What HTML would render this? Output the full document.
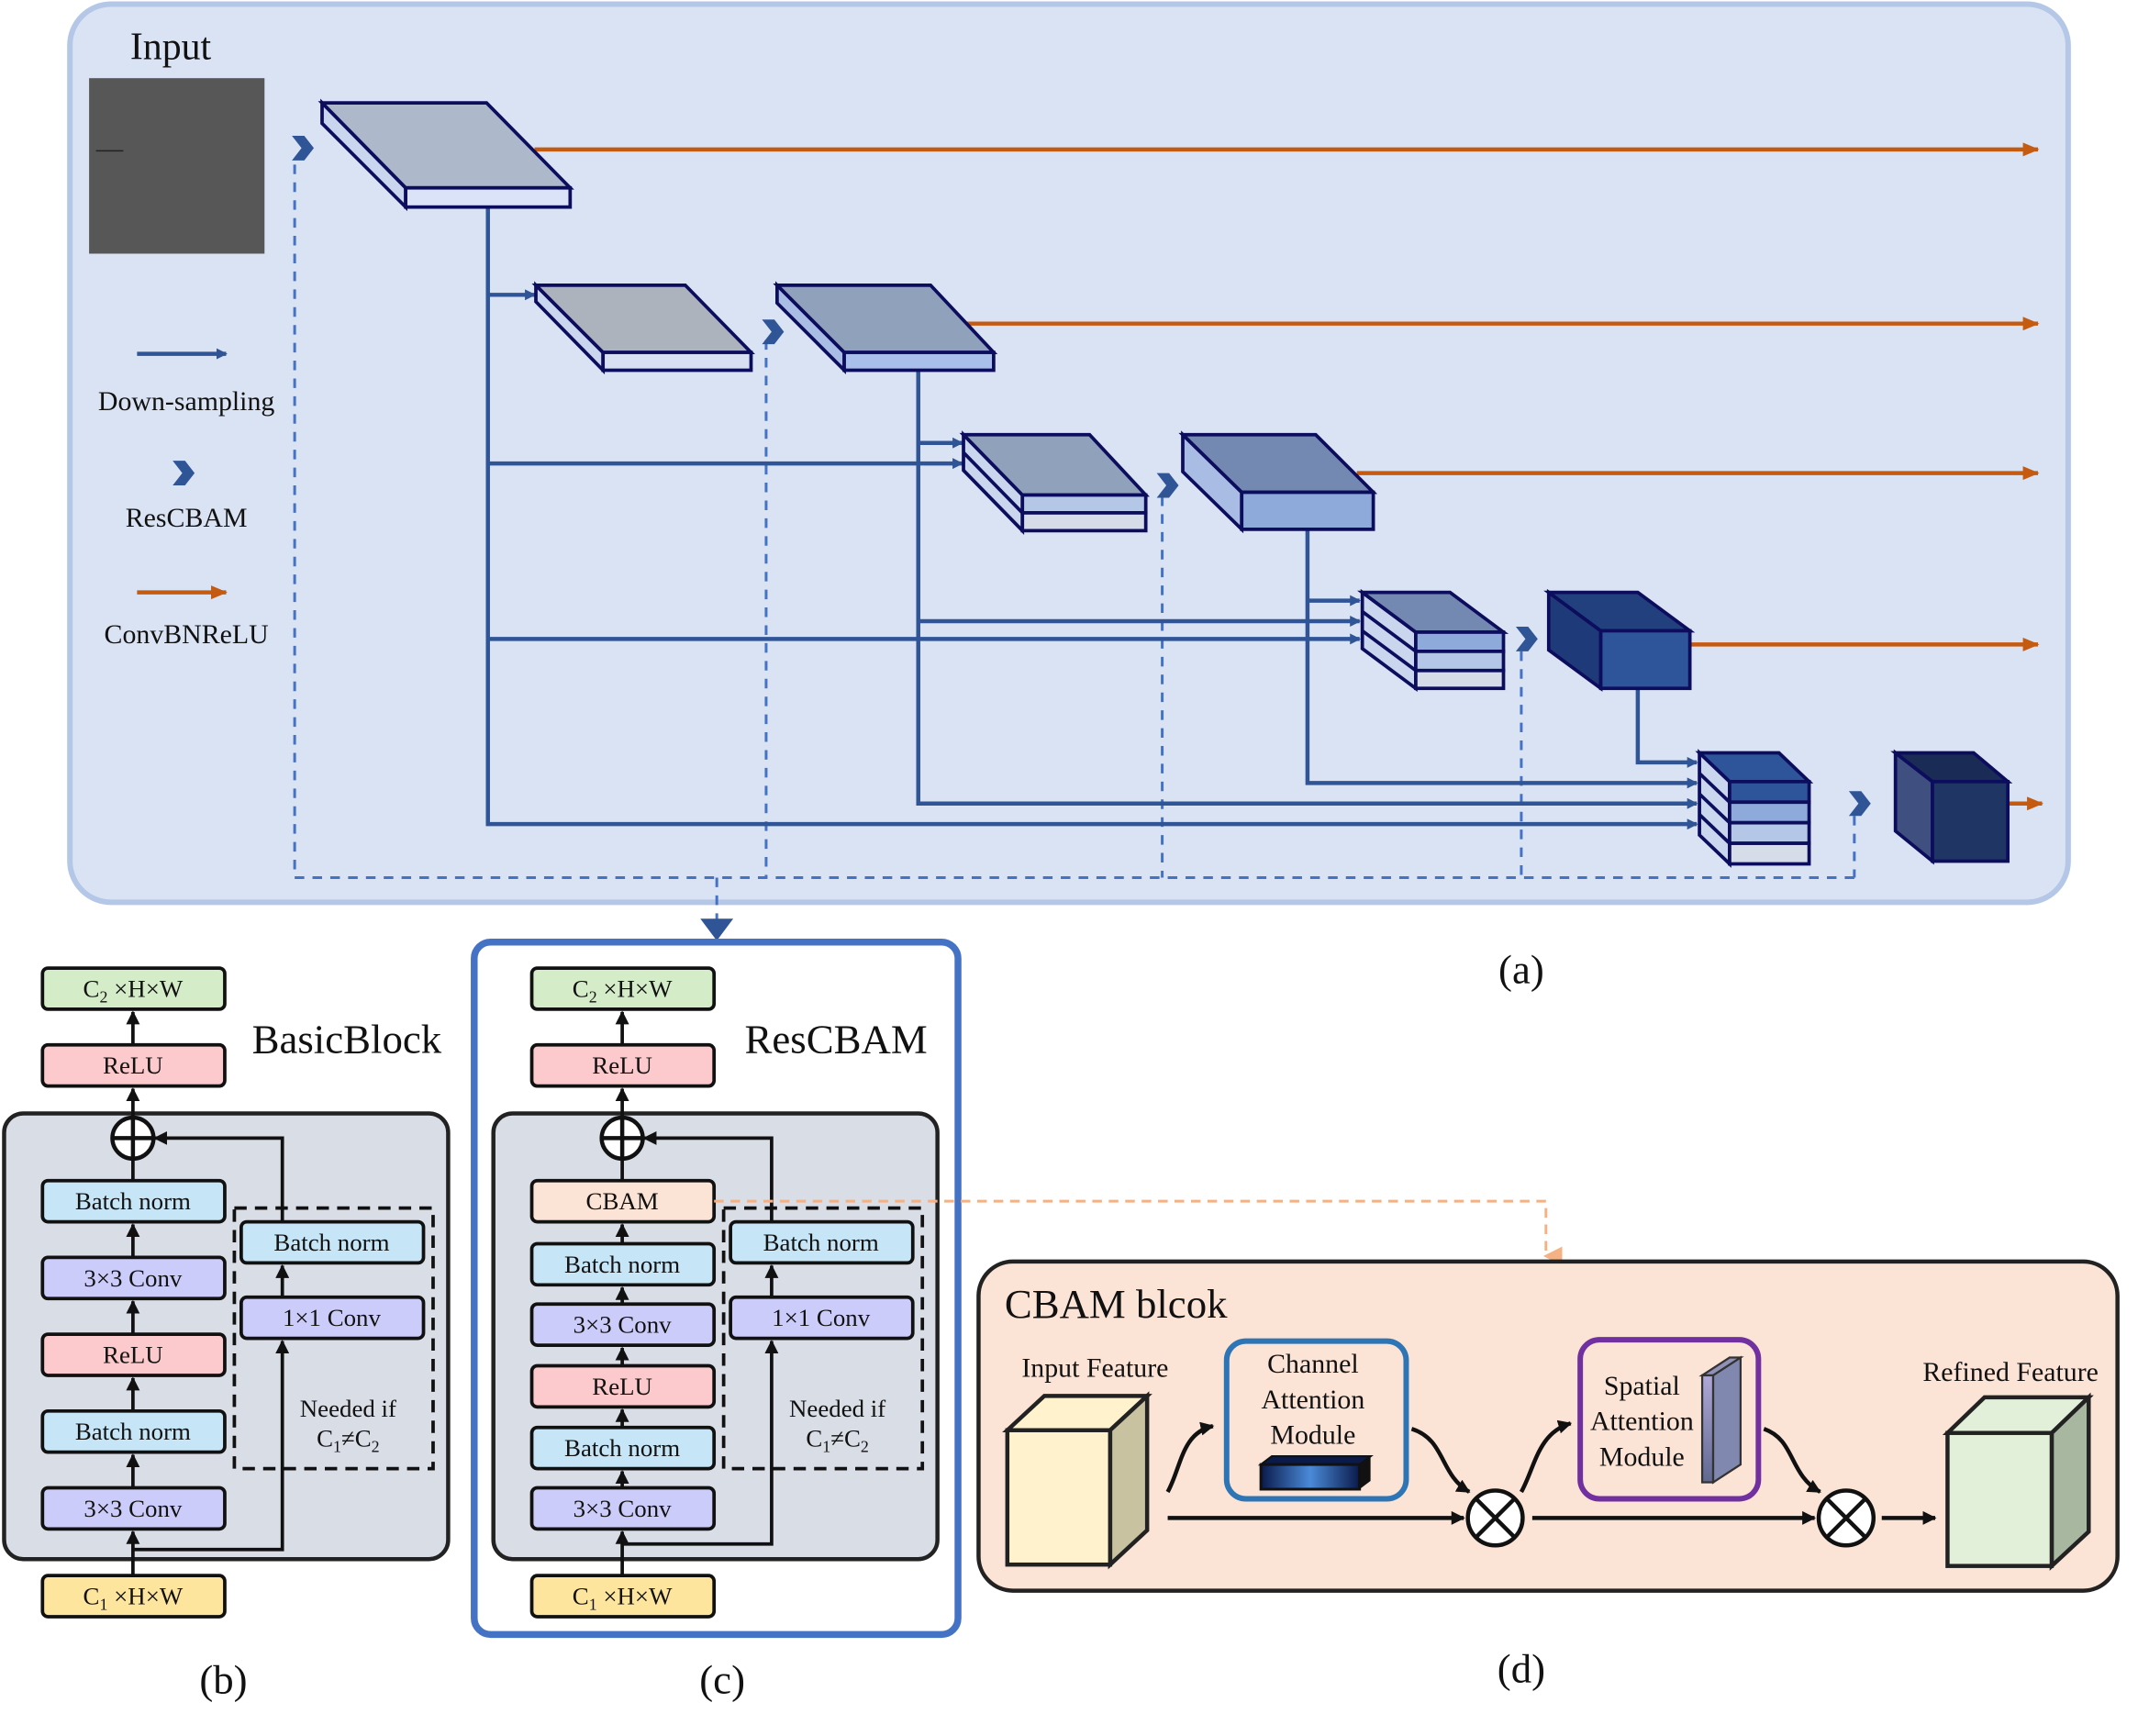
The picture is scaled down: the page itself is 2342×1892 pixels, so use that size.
<!DOCTYPE html>
<html><head><meta charset="utf-8"><style>
html,body{margin:0;padding:0;background:#fff;}
svg{display:block;}
text{font-family:"Liberation Serif",serif;fill:#111;}
</style></head><body>
<svg width="2342" height="1892" viewBox="0 0 1568 1266" preserveAspectRatio="none" xmlns="http://www.w3.org/2000/svg">
<defs>
<marker id="ab" markerWidth="8" markerHeight="8" refX="7" refY="4" orient="auto" markerUnits="userSpaceOnUse"><path d="M0,0 L8,4 L0,8 z" fill="#2f5597"/></marker>
<marker id="ao" markerWidth="12" markerHeight="10" refX="11" refY="5" orient="auto" markerUnits="userSpaceOnUse"><path d="M0,0 L12,5 L0,10 z" fill="#c55a11"/></marker>
<marker id="ak" markerWidth="10" markerHeight="10" refX="9" refY="5" orient="auto" markerUnits="userSpaceOnUse"><path d="M0,0 L10,5 L0,10 z" fill="#111"/></marker>
<marker id="ap" markerWidth="14" markerHeight="14" refX="7" refY="12" orient="auto" markerUnits="userSpaceOnUse"><path d="M0,0 L14,0 L7,14 z" fill="#f4b183"/></marker>
<linearGradient id="gch" x1="0" x2="1"><stop offset="0" stop-color="#0a1a4a"/><stop offset="0.5" stop-color="#4a8ad8"/><stop offset="1" stop-color="#0a1a4a"/></linearGradient>
<linearGradient id="gsp" x1="0" y1="0" x2="0" y2="1"><stop offset="0" stop-color="#b0a8d8"/><stop offset="1" stop-color="#606890"/></linearGradient>
<g id="chev"><path d="M-7,-9 L2,-9 L9,0 L2,9 L-7,9 L0,0 z" fill="#2f5597"/></g>
</defs>

<!-- Panel a -->
<rect x="51" y="3" width="1458" height="655" rx="30" fill="#dae3f3" stroke="#b4c7e7" stroke-width="4"/>
<text x="95" y="43" font-size="28">Input</text>
<rect x="65" y="57" width="128" height="128" fill="#575757"/>
<line x1="70" y1="110" x2="90" y2="110" stroke="#222" stroke-width="1"/>

<line x1="100" y1="258" x2="165" y2="258" stroke="#2f5597" stroke-width="3" marker-end="url(#ab)"/>
<text x="136" y="299" font-size="20" text-anchor="middle">Down-sampling</text>
<use href="#chev" x="133" y="345"/>
<text x="136" y="384" font-size="20" text-anchor="middle">ResCBAM</text>
<line x1="100" y1="432" x2="165" y2="432" stroke="#c55a11" stroke-width="3" marker-end="url(#ao)"/>
<text x="136" y="469" font-size="20" text-anchor="middle">ConvBNReLU</text>

<g stroke="#c55a11" stroke-width="3" fill="none">
<line x1="390" y1="109" x2="1487" y2="109" marker-end="url(#ao)"/>
<line x1="705" y1="236" x2="1487" y2="236" marker-end="url(#ao)"/>
<line x1="990" y1="345" x2="1487" y2="345" marker-end="url(#ao)"/>
<line x1="1233" y1="470" x2="1487" y2="470" marker-end="url(#ao)"/>
<line x1="1465" y1="586" x2="1490" y2="586" marker-end="url(#ao)"/>
</g>

<g stroke="#4472c4" stroke-width="2" stroke-dasharray="7,6" fill="none">
<line x1="215" y1="120" x2="215" y2="640"/>
<line x1="559" y1="248" x2="559" y2="640"/>
<line x1="848" y1="362" x2="848" y2="640"/>
<line x1="1110" y1="475" x2="1110" y2="640"/>
<line x1="1353" y1="595" x2="1353" y2="640"/>
<line x1="215" y1="640" x2="1353" y2="640"/>
<line x1="523" y1="640" x2="523" y2="672"/>
</g>
<path d="M511,670 L535,670 L523,686 z" fill="#2f5597"/>

<g stroke="#2f5597" stroke-width="3" fill="none">
<polyline points="356,151 356,601 1238,601" marker-end="url(#ab)"/>
<line x1="356" y1="215" x2="390" y2="215" marker-end="url(#ab)"/>
<line x1="356" y1="338" x2="702" y2="338" marker-end="url(#ab)"/>
<line x1="356" y1="466" x2="992" y2="466" marker-end="url(#ab)"/>
<polyline points="670,270 670,586 1238,586" marker-end="url(#ab)"/>
<line x1="670" y1="323" x2="702" y2="323" marker-end="url(#ab)"/>
<line x1="670" y1="453" x2="992" y2="453" marker-end="url(#ab)"/>
<polyline points="954,386 954,571 1238,571" marker-end="url(#ab)"/>
<line x1="954" y1="438" x2="992" y2="438" marker-end="url(#ab)"/>
<polyline points="1195,502 1195,556 1238,556" marker-end="url(#ab)"/>
</g>

<use href="#chev" x="220" y="108"/>
<use href="#chev" x="563" y="242"/>
<use href="#chev" x="851" y="354"/>
<use href="#chev" x="1113" y="466"/>
<use href="#chev" x="1356" y="586"/>

<g stroke="#0d0d5e" stroke-width="2.5" stroke-linejoin="miter">
<polygon points="235,75 235,90 296,151 296,137" fill="#c9d6ee"/>
<polygon points="235,75 355,75 416,137 296,137" fill="#adb9cb"/>
<rect x="296" y="137" width="120" height="14" fill="#dae3f8"/>
<polygon points="391,208 391,220 440,270 440,257" fill="#c9d6ee"/>
<polygon points="391,208 500,208 548,257 440,257" fill="#adb3bd"/>
<rect x="440" y="257" width="108" height="13" fill="#d6e0f2"/>
<polygon points="567,208 567,221 616,270 616,257" fill="#a8bce4"/>
<polygon points="567,208 679,208 725,257 616,257" fill="#8fa1bb"/>
<rect x="616" y="257" width="109" height="13" fill="#a9c0ea"/>
<polygon points="703,317 703,343 746,387 746,361" fill="#c9d6ee"/>
<polygon points="703,317 795,317 836,361 746,361" fill="#8fa1bb"/>
<rect x="746" y="361" width="90" height="13" fill="#b4c7e7"/>
<rect x="746" y="374" width="90" height="13" fill="#d6dde8"/>
<line x1="703" y1="330" x2="746" y2="374"/>
<polygon points="863,317 863,344 906,386 906,359" fill="#a9bce4"/>
<polygon points="863,317 960,317 1002,359 906,359" fill="#7489b1"/>
<rect x="906" y="359" width="96" height="27" fill="#8eaadb"/>
<polygon points="994,432 994,473 1033,502 1033,461" fill="#c9d6ee"/>
<polygon points="994,432 1058,432 1097,461 1033,461" fill="#7489b1"/>
<rect x="1033" y="461" width="64" height="14" fill="#8eaadb"/>
<rect x="1033" y="475" width="64" height="14" fill="#b4c7e7"/>
<rect x="1033" y="489" width="64" height="13" fill="#d6dde8"/>
<line x1="994" y1="446" x2="1033" y2="475"/><line x1="994" y1="460" x2="1033" y2="489"/>
<polygon points="1130,432 1130,474 1168,502 1168,460" fill="#1f3a78"/>
<polygon points="1130,432 1195,432 1233,460 1168,460" fill="#22407e"/>
<rect x="1168" y="460" width="65" height="42" fill="#2e5599"/>
<polygon points="1240,549 1240,609 1262,630 1262,570" fill="#c9d6ee"/>
<polygon points="1240,549 1298,549 1320,570 1262,570" fill="#2e5599"/>
<rect x="1262" y="570" width="58" height="15" fill="#2e5599"/>
<rect x="1262" y="585" width="58" height="15" fill="#8eaadb"/>
<rect x="1262" y="600" width="58" height="15" fill="#b4c7e7"/>
<rect x="1262" y="615" width="58" height="15" fill="#d6dde8"/>
<line x1="1240" y1="564" x2="1262" y2="585"/><line x1="1240" y1="579" x2="1262" y2="600"/><line x1="1240" y1="594" x2="1262" y2="615"/>
<polygon points="1383,549 1383,606 1410,628 1410,570" fill="#3e4f80"/>
<polygon points="1383,549 1440,549 1465,570 1410,570" fill="#1a2b55"/>
<rect x="1410" y="570" width="55" height="58" fill="#1f3564"/>
</g>
<text x="1110" y="717" font-size="30" text-anchor="middle">(a)</text>

<!-- Panel b -->
<rect x="3" y="812" width="324" height="325" rx="14" fill="#d9dde6" stroke="#222" stroke-width="3"/>
<rect x="171" y="881" width="145" height="190" fill="none" stroke="#111" stroke-width="2.5" stroke-dasharray="9,6"/>
<g stroke="#111" stroke-width="2.5" fill="none">
<line x1="97" y1="1179" x2="97" y2="1117" marker-end="url(#ak)"/>
<line x1="97" y1="1085" x2="97" y2="1061" marker-end="url(#ak)"/>
<line x1="97" y1="1029" x2="97" y2="1005" marker-end="url(#ak)"/>
<line x1="97" y1="973" x2="97" y2="949" marker-end="url(#ak)"/>
<line x1="97" y1="917" x2="97" y2="893" marker-end="url(#ak)"/>
<line x1="97" y1="861" x2="97" y2="846"/>
<line x1="97" y1="814" x2="97" y2="794" marker-end="url(#ak)"/>
<line x1="97" y1="762" x2="97" y2="738" marker-end="url(#ak)"/>
<polyline points="97,1130 206,1130 206,978" marker-end="url(#ak)"/>
<line x1="206" y1="946" x2="206" y2="923" marker-end="url(#ak)"/>
<polyline points="206,891 206,830 113,830" marker-end="url(#ak)"/>
<circle cx="97" cy="830" r="15" fill="#fff" stroke-width="3"/>
<line x1="82" y1="830" x2="112" y2="830" stroke-width="3"/><line x1="97" y1="815" x2="97" y2="845" stroke-width="3"/>
</g>
<g stroke="#111" stroke-width="2.5">
<rect x="31" y="706" width="133" height="30" rx="4" fill="#d5ecc9"/>
<rect x="31" y="762" width="133" height="30" rx="4" fill="#fcc9cc"/>
<rect x="31" y="861" width="133" height="30" rx="4" fill="#c6e5f6"/>
<rect x="31" y="917" width="133" height="30" rx="4" fill="#ccccfb"/>
<rect x="31" y="973" width="133" height="30" rx="4" fill="#fcc9cc"/>
<rect x="31" y="1029" width="133" height="30" rx="4" fill="#c6e5f6"/>
<rect x="31" y="1085" width="133" height="30" rx="4" fill="#ccccfb"/>
<rect x="31" y="1149" width="133" height="30" rx="4" fill="#fde59e"/>
<rect x="176" y="891" width="133" height="30" rx="4" fill="#c6e5f6"/>
<rect x="176" y="946" width="133" height="30" rx="4" fill="#ccccfb"/>
</g>
<g font-size="18" text-anchor="middle">
<text x="97" y="727">C<tspan font-size="12" dy="4">2</tspan><tspan dy="-4"> ×H×W</tspan></text>
<text x="97" y="783">ReLU</text>
<text x="97" y="882">Batch norm</text>
<text x="97" y="938">3×3 Conv</text>
<text x="97" y="994">ReLU</text>
<text x="97" y="1050">Batch norm</text>
<text x="97" y="1106">3×3 Conv</text>
<text x="97" y="1170">C<tspan font-size="12" dy="4">1</tspan><tspan dy="-4"> ×H×W</tspan></text>
<text x="242" y="912">Batch norm</text>
<text x="242" y="967">1×1 Conv</text>
<text x="254" y="1033">Needed if</text>
<text x="254" y="1055">C<tspan font-size="12" dy="4">1</tspan><tspan dy="-4">≠C</tspan><tspan font-size="12" dy="4">2</tspan></text>
</g>
<text x="253" y="768" font-size="30" text-anchor="middle">BasicBlock</text>
<text x="163" y="1235" font-size="30" text-anchor="middle">(b)</text>

<!-- Panel c -->
<rect x="346" y="687" width="353" height="505" rx="12" fill="#fff" stroke="#4472c4" stroke-width="5"/>
<rect x="360" y="812" width="324" height="325" rx="14" fill="#d9dde6" stroke="#222" stroke-width="3"/>
<rect x="528" y="881" width="145" height="190" fill="none" stroke="#111" stroke-width="2.5" stroke-dasharray="9,6"/>
<g stroke="#111" stroke-width="2.5" fill="none">
<line x1="454" y1="1179" x2="454" y2="1117" marker-end="url(#ak)"/>
<line x1="454" y1="1085" x2="454" y2="1073" marker-end="url(#ak)"/>
<line x1="454" y1="1041" x2="454" y2="1028" marker-end="url(#ak)"/>
<line x1="454" y1="996" x2="454" y2="983" marker-end="url(#ak)"/>
<line x1="454" y1="951" x2="454" y2="939" marker-end="url(#ak)"/>
<line x1="454" y1="907" x2="454" y2="893" marker-end="url(#ak)"/>
<line x1="454" y1="861" x2="454" y2="846"/>
<line x1="454" y1="814" x2="454" y2="794" marker-end="url(#ak)"/>
<line x1="454" y1="762" x2="454" y2="738" marker-end="url(#ak)"/>
<polyline points="454,1126 563,1126 563,978" marker-end="url(#ak)"/>
<line x1="563" y1="946" x2="563" y2="923" marker-end="url(#ak)"/>
<polyline points="563,891 563,830 470,830" marker-end="url(#ak)"/>
<circle cx="454" cy="830" r="15" fill="#fff" stroke-width="3"/>
<line x1="439" y1="830" x2="469" y2="830" stroke-width="3"/><line x1="454" y1="815" x2="454" y2="845" stroke-width="3"/>
</g>
<g stroke="#111" stroke-width="2.5">
<rect x="388" y="706" width="133" height="30" rx="4" fill="#d5ecc9"/>
<rect x="388" y="762" width="133" height="30" rx="4" fill="#fcc9cc"/>
<rect x="388" y="861" width="133" height="30" rx="4" fill="#fbe3d5"/>
<rect x="388" y="907" width="133" height="30" rx="4" fill="#c6e5f6"/>
<rect x="388" y="951" width="133" height="30" rx="4" fill="#ccccfb"/>
<rect x="388" y="996" width="133" height="30" rx="4" fill="#fcc9cc"/>
<rect x="388" y="1041" width="133" height="30" rx="4" fill="#c6e5f6"/>
<rect x="388" y="1085" width="133" height="30" rx="4" fill="#ccccfb"/>
<rect x="388" y="1149" width="133" height="30" rx="4" fill="#fde59e"/>
<rect x="533" y="891" width="133" height="30" rx="4" fill="#c6e5f6"/>
<rect x="533" y="946" width="133" height="30" rx="4" fill="#ccccfb"/>
</g>
<g font-size="18" text-anchor="middle">
<text x="454" y="727">C<tspan font-size="12" dy="4">2</tspan><tspan dy="-4"> ×H×W</tspan></text>
<text x="454" y="783">ReLU</text>
<text x="454" y="882">CBAM</text>
<text x="454" y="928">Batch norm</text>
<text x="454" y="972">3×3 Conv</text>
<text x="454" y="1017">ReLU</text>
<text x="454" y="1062">Batch norm</text>
<text x="454" y="1106">3×3 Conv</text>
<text x="454" y="1170">C<tspan font-size="12" dy="4">1</tspan><tspan dy="-4"> ×H×W</tspan></text>
<text x="599" y="912">Batch norm</text>
<text x="599" y="967">1×1 Conv</text>
<text x="611" y="1033">Needed if</text>
<text x="611" y="1055">C<tspan font-size="12" dy="4">1</tspan><tspan dy="-4">≠C</tspan><tspan font-size="12" dy="4">2</tspan></text>
</g>
<text x="610" y="768" font-size="30" text-anchor="middle">ResCBAM</text>
<text x="527" y="1235" font-size="30" text-anchor="middle">(c)</text>

<polyline points="521,876 1128,876 1128,916" fill="none" stroke="#f4b183" stroke-width="2" stroke-dasharray="7,5" marker-end="url(#ap)"/>

<!-- Panel d -->
<rect x="714" y="920" width="831" height="240" rx="25" fill="#fbe3d6" stroke="#222" stroke-width="3"/>
<text x="733" y="961" font-size="30">CBAM blcok</text>
<text x="799" y="1004" font-size="20" text-anchor="middle">Input Feature</text>
<g stroke="#222" stroke-width="3">
<polygon points="735,1043 762,1018 837,1018 810,1043" fill="#fff2cc"/>
<polygon points="810,1043 837,1018 837,1116 810,1141" fill="#c8c2a0"/>
<rect x="735" y="1043" width="75" height="98" fill="#fff2cc"/>
</g>
<text x="1467" y="1007" font-size="20" text-anchor="middle">Refined Feature</text>
<g stroke="#222" stroke-width="3">
<polygon points="1421,1045 1448,1019 1524,1019 1497,1045" fill="#e2efd9"/>
<polygon points="1497,1045 1524,1019 1524,1117 1497,1142" fill="#a8b8a0"/>
<rect x="1421" y="1045" width="76" height="97" fill="#e2efd9"/>
</g>
<rect x="895" y="978" width="131" height="115" rx="14" fill="#fbe3d6" stroke="#2e75b6" stroke-width="4"/>
<g font-size="20" text-anchor="middle">
<text x="958" y="1001">Channel</text><text x="958" y="1027">Attention</text><text x="958" y="1053">Module</text>
</g>
<polygon points="920,1068 928,1062 1000,1062 992,1068" fill="#0a1a4a" stroke="#111" stroke-width="1.5"/>
<rect x="920" y="1068" width="72" height="18" fill="url(#gch)" stroke="#111" stroke-width="2"/>
<polygon points="992,1068 1000,1062 1000,1080 992,1086" fill="#111"/>
<rect x="1153" y="977" width="130" height="116" rx="14" fill="#fbe3d6" stroke="#7030a0" stroke-width="4"/>
<g font-size="20" text-anchor="middle">
<text x="1198" y="1017">Spatial</text><text x="1198" y="1043">Attention</text><text x="1198" y="1069">Module</text>
</g>
<polygon points="1242,1003 1262,990 1270,990 1250,1003" fill="#9090b8" stroke="#333" stroke-width="1.5"/>
<rect x="1242" y="1003" width="8" height="78" fill="url(#gsp)" stroke="#333" stroke-width="1.5"/>
<polygon points="1250,1003 1270,990 1270,1068 1250,1081" fill="#8088b0" stroke="#333" stroke-width="1.5"/>

<g stroke="#111" stroke-width="3" fill="none">
<line x1="852" y1="1107" x2="1068" y2="1107" marker-end="url(#ak)"/>
<path d="M852,1088 C862,1070 862,1045 885,1040" marker-end="url(#ak)"/>
<path d="M1030,1042 C1055,1050 1050,1075 1072,1088" marker-end="url(#ak)"/>
<line x1="1118" y1="1107" x2="1324" y2="1107" marker-end="url(#ak)"/>
<path d="M1110,1088 C1120,1070 1122,1045 1146,1038" marker-end="url(#ak)"/>
<path d="M1287,1042 C1310,1050 1305,1075 1328,1088" marker-end="url(#ak)"/>
<line x1="1373" y1="1107" x2="1412" y2="1107" marker-end="url(#ak)"/>
<circle cx="1091" cy="1107" r="20" fill="#fff"/>
<line x1="1077" y1="1093" x2="1105" y2="1121"/><line x1="1105" y1="1093" x2="1077" y2="1121"/>
<circle cx="1347" cy="1107" r="20" fill="#fff"/>
<line x1="1333" y1="1093" x2="1361" y2="1121"/><line x1="1361" y1="1093" x2="1333" y2="1121"/>
</g>
<text x="1110" y="1227" font-size="30" text-anchor="middle">(d)</text>
</svg>
</body></html>
